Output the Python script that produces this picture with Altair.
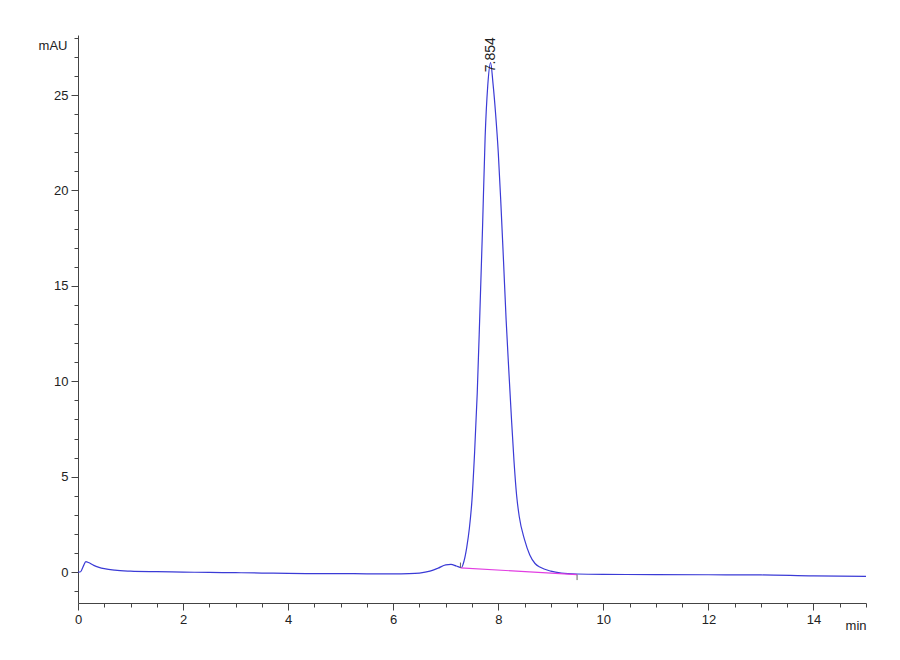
import altair as alt
import pandas as pd

# Chromatogram trace (time in min, absorbance in mAU)
time_min = [0.0, 0.05, 0.1, 0.15, 0.2, 0.3, 0.4, 0.5, 0.7, 1.0, 1.5, 2.0, 2.5, 3.0,
            3.5, 4.0, 4.5, 5.0, 5.5, 6.0, 6.3, 6.5, 6.7, 6.85, 7.0, 7.1, 7.2, 7.3,
            7.35, 7.4, 7.45, 7.5, 7.55, 7.6, 7.65, 7.7, 7.75, 7.8, 7.854, 7.9, 7.95,
            8.0, 8.05, 8.1, 8.15, 8.2, 8.25, 8.3, 8.35, 8.4, 8.5, 8.6, 8.7, 8.8,
            9.0, 9.2, 9.5, 10.0, 11.0, 12.0, 13.0, 14.0, 15.0]
signal_mau = [0.0, 0.02, 0.3, 0.55, 0.5, 0.35, 0.25, 0.18, 0.1, 0.05, 0.02, 0.0, -0.02, -0.03,
              -0.05, -0.07, -0.08, -0.08, -0.09, -0.09, -0.08, -0.05, 0.05, 0.2, 0.38, 0.4, 0.32, 0.24,
              0.6, 1.3, 2.3, 3.8, 6.3, 9.4, 13.6, 18.0, 22.8, 25.5, 26.7, 25.6, 24.0,
              22.0, 19.3, 16.3, 13.2, 10.6, 8.1, 5.8, 4.0, 2.9, 1.7, 0.9, 0.45, 0.25,
              0.05, -0.05, -0.1, -0.12, -0.13, -0.14, -0.15, -0.2, -0.22]

# Integration baseline of the main peak
base_time = [7.28, 9.5]
base_signal = [0.22, -0.13]
base_mark_top = [0.5, -0.42]

# Peak annotation
peak_rt = [7.854]
peak_label = ["7.854"]
peak_label_y = [26.2]

# Axis tick values
x_ticks = [i * 0.5 for i in range(0, 31)]
y_ticks = list(range(-1, 29))

trace = pd.DataFrame({"t": time_min, "s": signal_mau})
base = pd.DataFrame({"t": base_time, "s": base_signal, "s2": base_mark_top})
peak = pd.DataFrame({"t": peak_rt, "s": peak_label_y, "label": peak_label})

xscale = alt.Scale(domain=[0, 15], nice=False, zero=False)
yscale = alt.Scale(domain=[-1.62, 28.15], nice=False, zero=False)

xaxis = alt.Axis(
    values=x_ticks, tickCount=200,
    labelExpr="datum.value % 2 === 0 ? datum.value : ''",
    tickSize={"condition": {"test": "datum.value % 2 === 0", "value": 7}, "value": 4},
    title="min", titleAngle=0, titleAlign="right", titleBaseline="middle",
    titleX=788, titleY=22,
    titleFontWeight="normal", titleFontSize=13, titleFont="Liberation Sans",
    titleColor="#222", labelFlush=False, labelOverlap=False,
    grid=False, domainColor="#444", tickColor="#444",
    labelFont="Liberation Sans", labelFontSize=13, labelColor="#222", labelPadding=3,
)
yaxis = alt.Axis(
    values=y_ticks, tickCount=200,
    labelExpr="datum.value % 5 === 0 ? datum.value : ''",
    tickSize={"condition": {"test": "datum.value % 5 === 0", "value": 7}, "value": 4},
    title="mAU", titleAngle=0, titleAlign="right", titleBaseline="middle",
    titleX=-11, titleY=10, titleFontWeight="normal", titleFontSize=13,
    titleFont="Liberation Sans", titleColor="#222",
    grid=False, domainColor="#444", tickColor="#444", labelOverlap=False,
    labelFont="Liberation Sans", labelFontSize=13, labelColor="#222", labelPadding=3,
    labelFlush=False,
)

line = alt.Chart(trace).mark_line(color="#3b3bd6", strokeWidth=1.2, interpolate="monotone").encode(
    x=alt.X("t:Q", scale=xscale, axis=xaxis),
    y=alt.Y("s:Q", scale=yscale, axis=yaxis),
)

baseline = alt.Chart(base).mark_line(color="#e23ee2", strokeWidth=1.2).encode(
    x=alt.X("t:Q", scale=xscale),
    y=alt.Y("s:Q", scale=yscale),
)

marks = alt.Chart(base).mark_rule(color="#666", strokeWidth=1).encode(
    x=alt.X("t:Q", scale=xscale),
    y=alt.Y("s:Q", scale=yscale),
    y2="s2:Q",
)

label = alt.Chart(peak).mark_text(
    angle=270, align="left", baseline="middle", font="Liberation Sans",
    fontSize=14, color="#222",
).encode(
    x=alt.X("t:Q", scale=xscale),
    y=alt.Y("s:Q", scale=yscale),
    text="label:N",
)

chart = alt.layer(line, baseline, marks, label).properties(
    width=788, height=568,
    background="white",
    autosize=alt.AutoSizeParams(type="none"),
    padding={"left": 70, "top": 27, "right": 26, "bottom": 49},
).configure_view(strokeWidth=0, stroke="transparent")

chart.save("out.html", embed_options={"renderer": "svg", "actions": False})
